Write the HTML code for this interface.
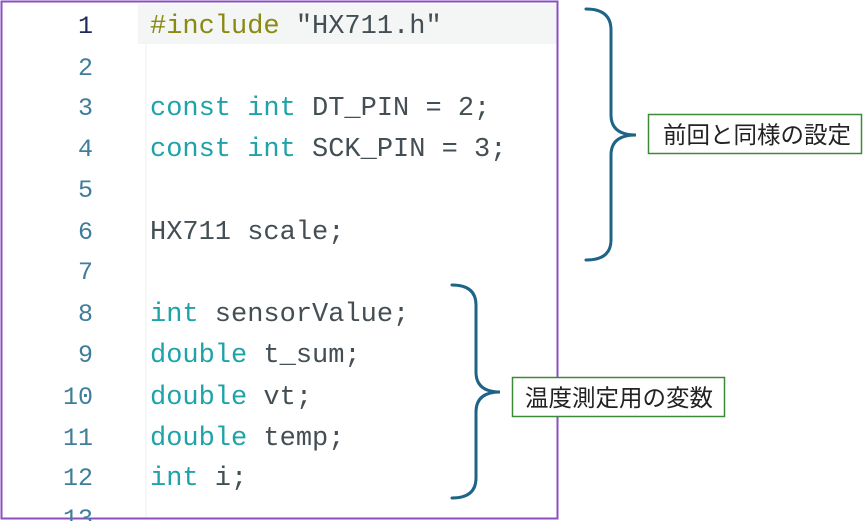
<!DOCTYPE html>
<html><head><meta charset="utf-8"><style>
html,body{margin:0;padding:0;background:#fff;}
svg{display:block;}
.c{font-family:"Liberation Mono",monospace;font-size:27px;}
.n{font-family:"Liberation Mono",monospace;font-size:25px;fill:#3f7d9a;}
.k{fill:#1fa3a8}.t{fill:#434f54}.p{fill:#8a8a12}
.j{font-family:"Liberation Sans","Noto Sans CJK JP",sans-serif;font-size:23.5px;fill:#222;}
</style></head><body>
<svg width="867" height="521" viewBox="0 0 867 521" xmlns="http://www.w3.org/2000/svg">
<rect x="138" y="4" width="420" height="40" fill="#f4f5f5"/>
<line x1="146" y1="44" x2="146" y2="519" stroke="#eef0f0" stroke-width="1"/>
<rect x="1.5" y="1.5" width="556" height="517" fill="none" stroke="#8a4fc0" stroke-width="2"/>
<g class="n" text-anchor="end">
<text x="93" y="33" style="fill:#1d2a5a">1</text>
<text x="93" y="75">2</text><text x="93" y="115">3</text><text x="93" y="156">4</text>
<text x="93" y="197">5</text><text x="93" y="239">6</text><text x="93" y="279">7</text>
<text x="93" y="321">8</text><text x="93" y="362">9</text><text x="93" y="404">10</text>
<text x="93" y="445">11</text><text x="93" y="485">12</text><text x="93" y="526">13</text>
</g>
<g class="c">
<text x="150" y="33"><tspan class="p">#include</tspan><tspan class="t"> "HX711.h"</tspan></text>
<text x="150" y="115"><tspan class="k">const int</tspan><tspan class="t"> DT_PIN = 2;</tspan></text>
<text x="150" y="156"><tspan class="k">const int</tspan><tspan class="t"> SCK_PIN = 3;</tspan></text>
<text x="150" y="239" class="t">HX711 scale;</text>
<text x="150" y="321"><tspan class="k">int</tspan><tspan class="t"> sensorValue;</tspan></text>
<text x="150" y="362"><tspan class="k">double</tspan><tspan class="t"> t_sum;</tspan></text>
<text x="150" y="404"><tspan class="k">double</tspan><tspan class="t"> vt;</tspan></text>
<text x="150" y="445"><tspan class="k">double</tspan><tspan class="t"> temp;</tspan></text>
<text x="150" y="485"><tspan class="k">int</tspan><tspan class="t"> i;</tspan></text>
</g>
<g fill="none" stroke="#1f6486" stroke-width="3" stroke-linecap="round">
<path d="M586 9 Q611 9 611 30 L611 115 Q611 135 636 135 Q611 135 611 155 L611 240 Q611 260 586 260"/>
<path d="M452 285 Q476 285 476 305 L476 372 Q476 392 500 392 Q476 392 476 412 L476 478 Q476 498 452 498"/>
</g>
<rect x="648.5" y="114.5" width="213" height="39" fill="#fff" stroke="#3a8a3a" stroke-width="1.5"/>
<text x="757" y="143" class="j" text-anchor="middle">前回と同様の設定</text>
<rect x="512.5" y="377.5" width="212" height="39" fill="#fff" stroke="#3a8a3a" stroke-width="1.5"/>
<text x="619" y="406" class="j" text-anchor="middle">温度測定用の変数</text>
</svg>
</body></html>
